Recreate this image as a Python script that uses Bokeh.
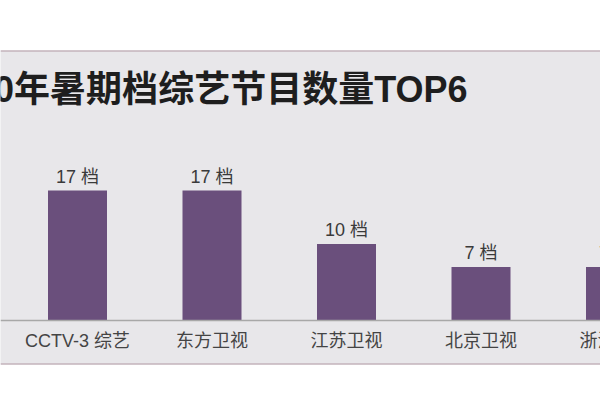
from bokeh.plotting import figure
from bokeh.models import Range1d, LinearAxis, FixedTicker, Label, Span, ColumnDataSource
from bokeh.core.properties import value
from bokeh.embed import file_html
from bokeh.resources import INLINE

# ---- data ----
channels = ["CCTV-3 综艺", "东方卫视", "江苏卫视", "北京卫视", "浙江卫视"]
counts = [17, 17, 10, 7, 7]
unit = "档"
title_text = "2020年暑期档综艺节目数量TOP6"

# ---- layout constants (pixels) ----
W, H = 600, 394
TOP, BOTTOM = 50, 30
frame_h = H - TOP - BOTTOM
first_center_px = 77.0
step_px = 134.5
baseline_px = 320.0          # y pixel of value 0
px_per_unit = 130.0 / 17.0   # vertical scale

x0 = -first_center_px / step_px
x1 = x0 + W / step_px
y_end = (baseline_px - TOP) / px_per_unit
y_start = -((TOP + frame_h) - baseline_px) / px_per_unit

def xd(px):
    return x0 + px / step_px

def yd(py):
    return y_end - (py - TOP) / px_per_unit

positions = list(range(len(channels)))
src = ColumnDataSource(dict(
    x=positions,
    top=counts,
    zero=[0] * len(counts),
    name=channels,
    lab=[f"{c} {unit}" for c in counts],
))

FONT = "Liberation Sans, Noto Sans CJK SC"

p = figure(width=W, height=H, output_backend="svg", toolbar_location=None,
           x_range=Range1d(x0, x1), y_range=Range1d(y_start, y_end),
           x_axis_location=None, y_axis_location=None,
           min_border_top=TOP, min_border_bottom=BOTTOM,
           min_border_left=0, min_border_right=0)
p.background_fill_color = "#e8e7ea"
p.border_fill_color = "white"
p.outline_line_color = None
p.xgrid.visible = False
p.ygrid.visible = False

p.vbar(x="x", top="top", bottom=0, width=59.0 / step_px, source=src,
       fill_color="#6a4f7c", line_color=None)

# value labels above bars
p.text(x="x", y="top", text="lab", source=src, text_align="center",
       text_baseline="bottom", y_offset=-4, text_font=value(FONT),
       text_font_size="18px", text_color="#3a3a3a")

# baseline axis (line only); category names drawn below it so the
# partially visible last one is kept too
ax = LinearAxis(ticker=FixedTicker(ticks=positions), fixed_location=0)
ax.axis_line_color = "#a8a8a8"
ax.axis_line_width = 1.5
ax.major_tick_line_color = None
ax.minor_tick_line_color = None
ax.major_tick_out = 0
ax.major_tick_in = 0
ax.major_label_text_color = None
p.add_layout(ax, "below")

p.text(x="x", y="zero", text="name", source=src, text_align="center",
       text_baseline="top", y_offset=10, text_font=value(FONT),
       text_font_size="18px", text_color="#444444")

p.add_layout(Span(location=y_end, dimension="width", line_color="#b29aa4", line_width=2))
p.add_layout(Span(location=y_start, dimension="width", line_color="#b29aa4", line_width=2))

p.add_layout(Label(x=xd(467), y=yd(89), text=title_text, text_align="right",
                   text_baseline="middle", text_font=FONT, text_font_size="36px",
                   text_font_style="bold", text_color="#1e1e1e"))

open("out.html", "w").write(file_html(p, INLINE))
